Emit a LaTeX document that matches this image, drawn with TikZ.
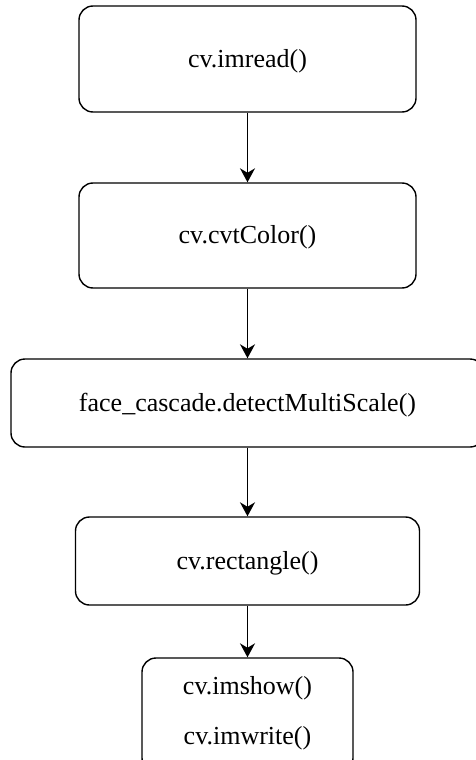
\documentclass[tikz,border=0pt]{standalone}
\usepackage{fontspec}
\setmainfont{Liberation Serif}
\usetikzlibrary{arrows.meta}

\begin{document}
\begin{tikzpicture}[x=1pt, y=-1pt,
  flowbox/.style={draw=black, line width=1.4pt, rounded corners=14pt,
    rectangle, inner sep=0pt, text height=20pt, text depth=4pt,
    font=\fontsize{26}{31}\selectfont},
  plaintext/.style={inner sep=0pt, anchor=base, font=\fontsize{26}{31}\selectfont},
  flow/.style={draw=black, line width=1.4pt,
    -{Stealth[length=14pt, width=15pt, inset=4.5pt]}}]

  \path[use as bounding box, fill=white] (0,0) rectangle (476,760);
  \clip (0,0) rectangle (476,760);

  % processing steps
  \node[flowbox, minimum width=337pt, minimum height=106pt] (read) at (247.5,59) {cv.imread()};
  \node[flowbox, minimum width=337pt, minimum height=105pt] (gray) at (247.5,235.5) {cv.cvtColor()};
  \node[flowbox, minimum width=473pt, minimum height=88pt] (detect) at (247.5,403) {face\_cascade.detectMultiScale()};
  \node[flowbox, minimum width=344pt, minimum height=88pt] (rect) at (247.5,561) {cv.rectangle()};
  \node[flowbox, minimum width=211pt, minimum height=114pt] (out) at (247.5,715) {};

  % output step labels
  \node[plaintext] (show) at (247.5,694) {cv.imshow()};
  \node[plaintext] (write) at (247.5,744) {cv.imwrite()};

  % connectors
  \draw[flow] (read.south) -- (gray.north);
  \draw[flow] (gray.south) -- (detect.north);
  \draw[flow] (detect.south) -- (rect.north);
  \draw[flow] (rect.south) -- (out.north);
\end{tikzpicture}
\end{document}
